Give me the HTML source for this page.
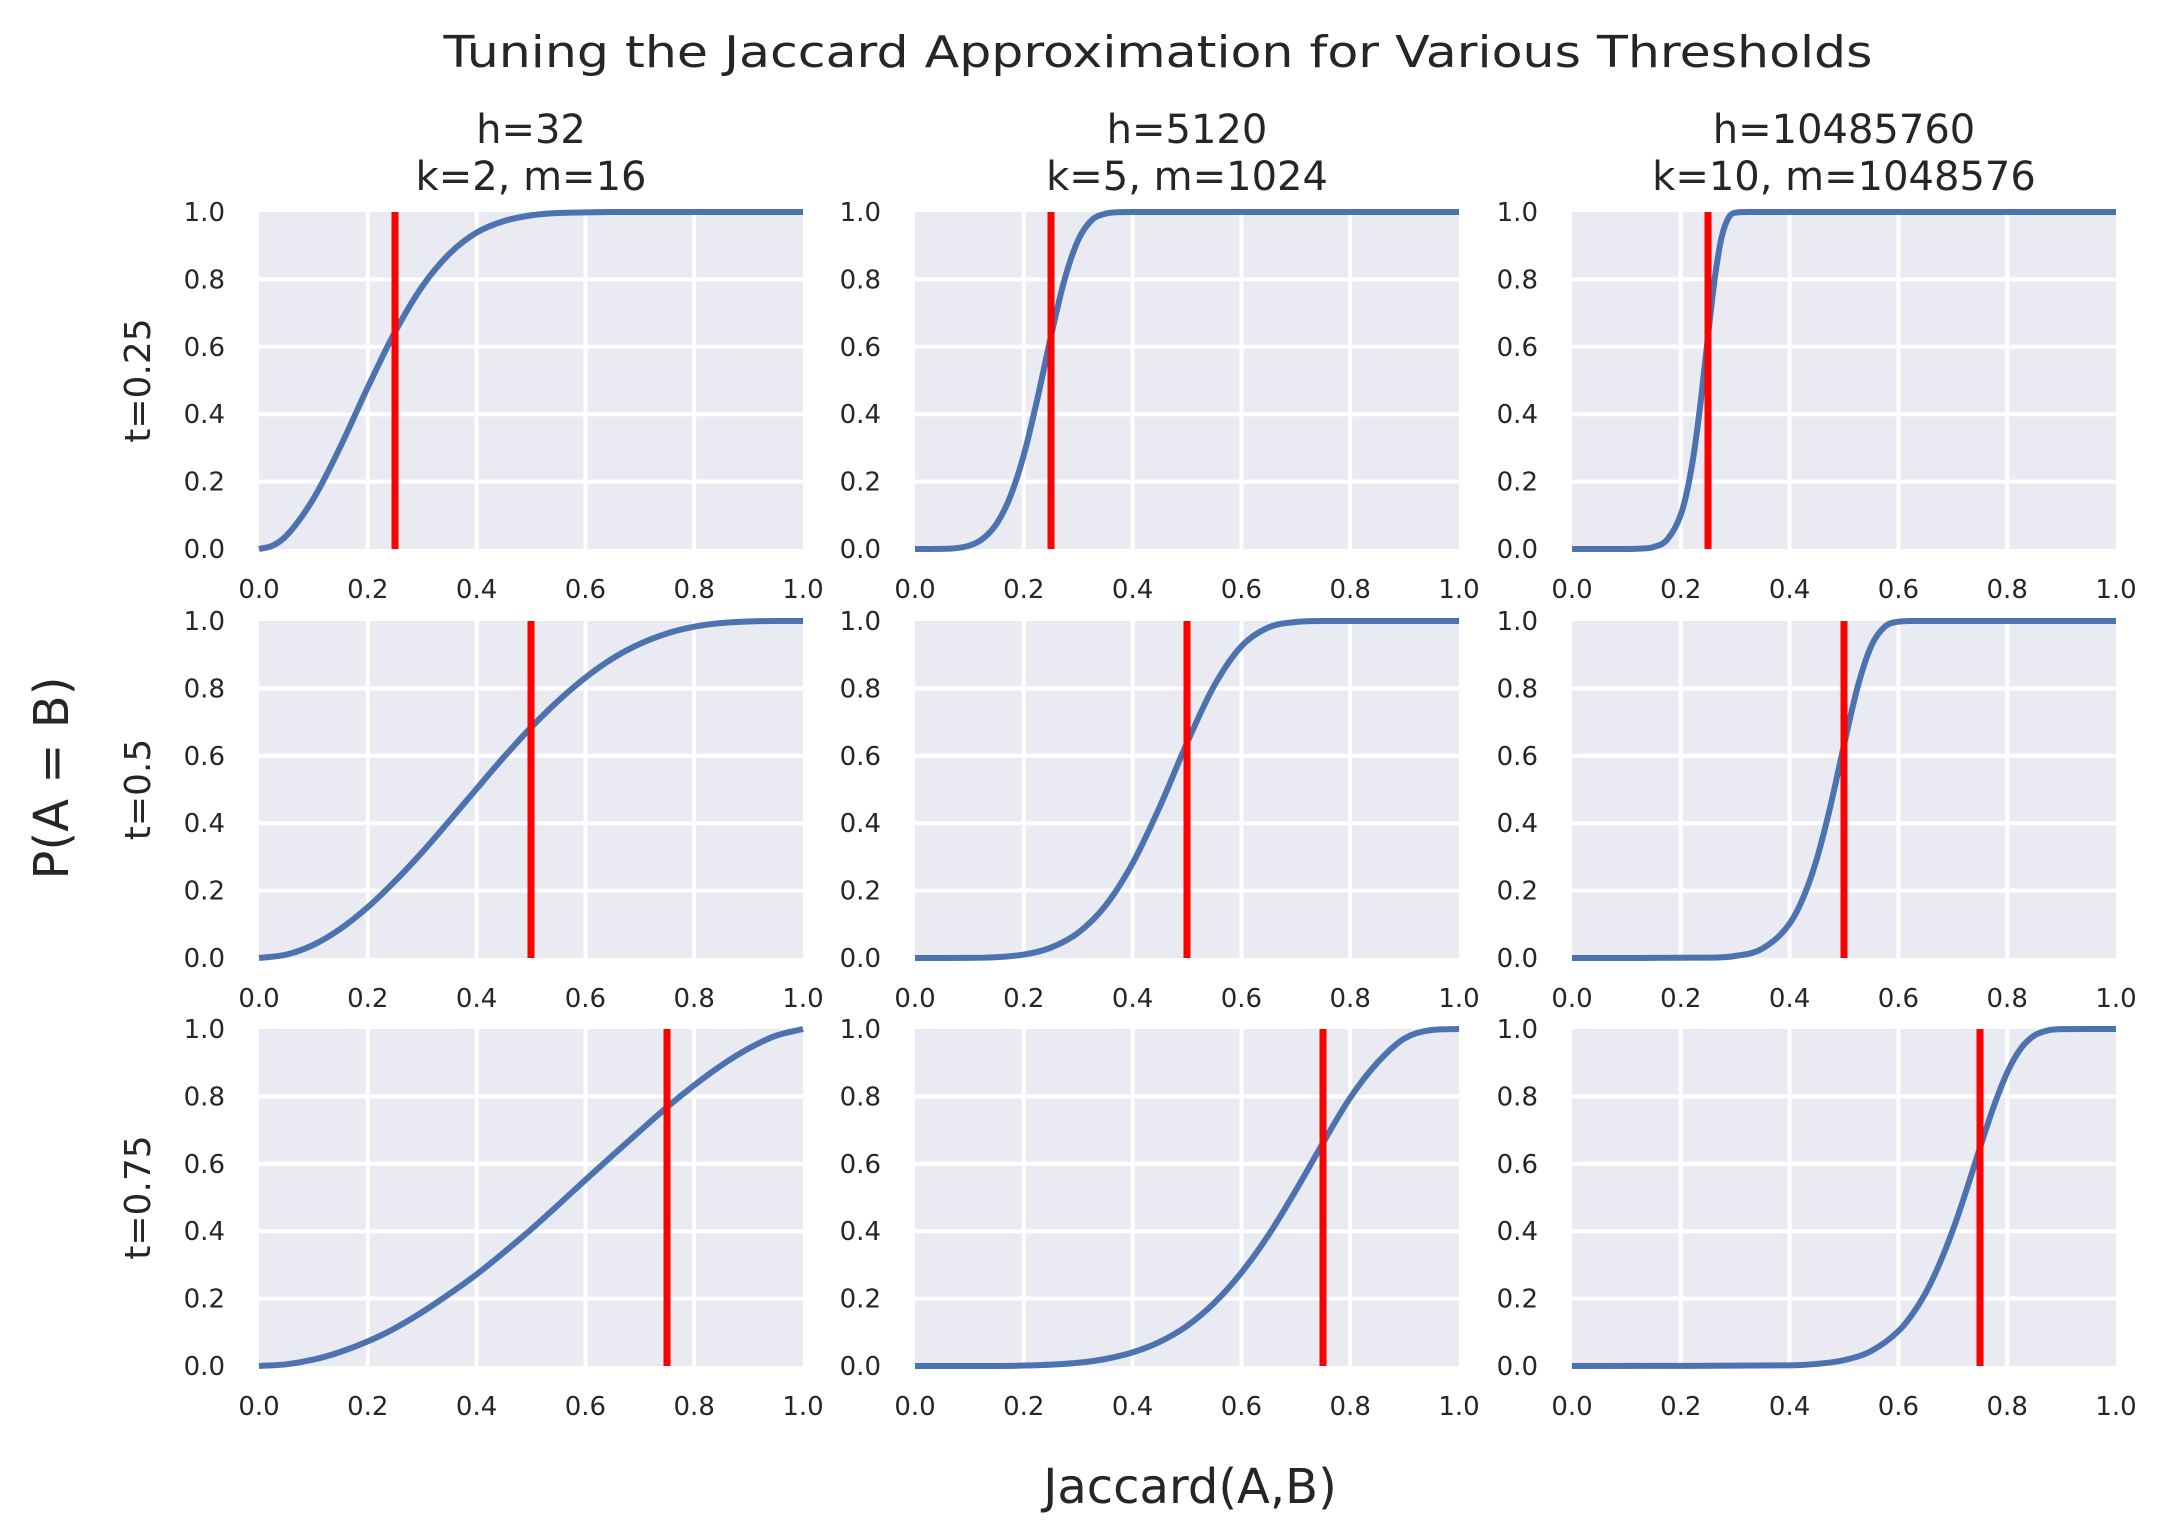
<!DOCTYPE html>
<html><head><meta charset="utf-8"><style>
html,body{margin:0;padding:0;background:#fff}
svg{display:block}
text{font-family:"DejaVu Sans","Liberation Sans",sans-serif;fill:#262626}
</style></head><body>
<svg id="fig" width="2171" height="1538" viewBox="0 0 2171 1538" xmlns="http://www.w3.org/2000/svg">
<text x="1158" y="67" font-size="44" text-anchor="middle" textLength="1429" lengthAdjust="spacingAndGlyphs">Tuning the Jaccard Approximation for Various Thresholds</text>
<text x="1190" y="1503" font-size="48" text-anchor="middle">Jaccard(A,B)</text>
<text transform="translate(68,778) rotate(-90)" font-size="48" text-anchor="middle">P(A = B)</text>
<g id="panels"></g>
</svg>
<script>
const colTitles1 = ["h=32", "h=5120", "h=10485760"];
const colTitles2 = ["k=2, m=16", "k=5, m=1024", "k=10, m=1048576"];
const rowLabels = ["t=0.25", "t=0.5", "t=0.75"];
const thresholds = [0.25, 0.5, 0.75];
const tickLabels = ["0.0","0.2","0.4","0.6","0.8","1.0"];
const tickValues = [0,0.2,0.4,0.6,0.8,1.0];

const xsA = [0,0.025,0.05,0.1,0.15,0.2,0.25,0.3,0.35,0.4,0.45,0.5,0.55,0.6,0.65,0.7,1];
const ysA = [0,0.01,0.039,0.149,0.305,0.480,0.644,0.779,0.876,0.939,0.973,0.990,0.997,0.999,1,1,1];
const xsB = [0,0.05,0.1,0.125,0.15,0.175,0.2,0.225,0.25,0.275,0.3,0.325,0.35,0.375,0.4,1];
const ysB = [0,0.0003,0.0102,0.031,0.075,0.155,0.279,0.446,0.632,0.800,0.917,0.976,0.995,0.9995,1,1];
const xsC = [0,0.1,0.125,0.15,0.175,0.2,0.2125,0.225,0.2375,0.25,0.2625,0.275,0.2875,0.3,0.325,1];
const ysC = [0,0,0.001,0.006,0.028,0.102,0.179,0.294,0.450,0.632,0.804,0.925,0.9825,0.998,1,1];
const xsD = [0,0.05,0.1,0.15,0.2,0.25,0.3,0.35,0.4,0.45,0.5,0.55,0.6,0.65,0.7,0.75,0.8,0.85,0.9,0.95,1];
const ysD = [0,0.010,0.039,0.087,0.151,0.228,0.314,0.407,0.502,0.596,0.684,0.763,0.832,0.889,0.932,0.963,0.983,0.994,0.9987,1,1];
const xsE = [0,0.1,0.2,0.25,0.3,0.35,0.4,0.45,0.5,0.55,0.6,0.65,0.7,0.75,1];
const ysE = [0,0.0003,0.0102,0.031,0.075,0.155,0.281,0.449,0.638,0.808,0.925,0.981,0.997,1,1];
const xsF = [0,0.25,0.3,0.35,0.4,0.425,0.45,0.475,0.5,0.525,0.55,0.575,0.6,0.625,1];
const ysF = [0,0.001,0.006,0.028,0.102,0.179,0.294,0.450,0.632,0.804,0.9255,0.983,0.998,1,1];
const xsG = [0,0.05,0.1,0.15,0.2,0.25,0.3,0.35,0.4,0.45,0.5,0.55,0.6,0.65,0.7,0.75,0.8,0.85,0.9,0.95,1];
const ysG = [0,0.005,0.019,0.042,0.073,0.112,0.160,0.214,0.272,0.337,0.405,0.478,0.552,0.625,0.697,0.768,0.833,0.892,0.942,0.980,1];
const xsH = [0,0.1,0.2,0.3,0.35,0.4,0.45,0.5,0.55,0.6,0.65,0.7,0.75,0.8,0.85,0.9,0.95,1];
const ysH = [0,0,0.0013,0.0097,0.0208,0.0403,0.0718,0.119,0.187,0.277,0.389,0.521,0.662,0.796,0.900,0.972,0.997,1];
const xsI = [0,0.4,0.45,0.5,0.55,0.6,0.625,0.65,0.675,0.7,0.725,0.75,0.775,0.8,0.825,0.85,0.875,0.9,1];
const ysI = [0,0.0019,0.0061,0.0174,0.0446,0.1034,0.152,0.2165,0.301,0.403,0.5215,0.648,0.769,0.871,0.942,0.9807,0.9959,0.9996,1];

const seriesX = [[xsA,xsB,xsC],[xsD,xsE,xsF],[xsG,xsH,xsI]];
const seriesY = [[ysA,ysB,ysC],[ysD,ysE,ysF],[ysG,ysH,ysI]];

const NS = "http://www.w3.org/2000/svg";
const lefts = [259, 915, 1572], tops = [212, 621, 1029];
const W = 544, H = 337;
const root = document.getElementById('panels');
function mk(tag, attrs, parent){const e=document.createElementNS(NS,tag);for(const k in attrs)e.setAttribute(k,attrs[k]);parent.appendChild(e);return e;}

function monoPath(px, py){
  const n=px.length, d=[], m=new Array(n);
  for(let i=0;i<n-1;i++) d.push((py[i+1]-py[i])/(px[i+1]-px[i]));
  m[0]=d[0]; m[n-1]=d[n-2];
  for(let i=1;i<n-1;i++){ m[i]=(d[i-1]*d[i]<=0)?0:(d[i-1]+d[i])/2; }
  for(let i=0;i<n-1;i++){
    if(d[i]===0){m[i]=0;m[i+1]=0;continue;}
    const a=m[i]/d[i], b=m[i+1]/d[i], s=a*a+b*b;
    if(s>9){const t=3/Math.sqrt(s);m[i]=t*a*d[i];m[i+1]=t*b*d[i];}
  }
  let p="M"+px[0].toFixed(2)+","+py[0].toFixed(2);
  for(let i=0;i<n-1;i++){
    const h=px[i+1]-px[i];
    p+=" C"+(px[i]+h/3).toFixed(2)+","+(py[i]+m[i]*h/3).toFixed(2)+" "+(px[i+1]-h/3).toFixed(2)+","+(py[i+1]-m[i+1]*h/3).toFixed(2)+" "+px[i+1].toFixed(2)+","+py[i+1].toFixed(2);
  }
  return p;
}

for(let r=0;r<3;r++){
  for(let c=0;c<3;c++){
    const L=lefts[c], T=tops[r];
    const sx=v=>L+v*W, sy=v=>T+H-v*H;
    const g=mk('g',{},root);
    
    
    const bg=mk('rect',{x:L,y:T,width:W,height:H,fill:'#EAEAF2'},g);
    
    
    for(let i=1;i<5;i++){
      const gx=mk('line',{x1:sx(tickValues[i]),x2:sx(tickValues[i]),y1:T,y2:T+H,stroke:'#fff','stroke-width':4},g);
      
      
      const gy=mk('line',{x1:L,x2:L+W,y1:sy(tickValues[i]),y2:sy(tickValues[i]),stroke:'#fff','stroke-width':4},g);
      
      
    }
    for(let i=0;i<6;i++){
      const yt=mk('text',{x:L-34,y:sy(tickValues[i])+9,'font-size':26,'text-anchor':'end'},g);
      yt.textContent=tickLabels[i];
      
      
      const xt=mk('text',{x:sx(tickValues[i]),y:T+H+49,'font-size':26,'text-anchor':'middle'},g);
      xt.textContent=tickLabels[i];
      
      
    }
    const xs=seriesX[r][c], ys=seriesY[r][c];
    const curve=mk('path',{d:monoPath(xs.map(sx),ys.map(sy)),fill:'none',stroke:'#4C72B0','stroke-width':6,'stroke-linejoin':'round'},g);
    
    
    const tl=mk('line',{x1:sx(thresholds[r]),x2:sx(thresholds[r]),y1:T,y2:T+H,stroke:'#FF0000','stroke-width':7},g);
    
    
  }
}
for(let c=0;c<3;c++){
  const cx=lefts[c]+W/2;
  const t1=mk('text',{x:cx,y:143,'font-size':40,'text-anchor':'middle'},root);
  t1.textContent=colTitles1[c];
  
  
  const t2=mk('text',{x:cx,y:190,'font-size':40,'text-anchor':'middle'},root);
  t2.textContent=colTitles2[c];
  
  
}
for(let r=0;r<3;r++){
  const cy=tops[r]+H/2;
  const rl=mk('text',{transform:'translate(150,'+cy+') rotate(-90)','font-size':36,'text-anchor':'middle'},root);
  rl.textContent=rowLabels[r];
  
  
}
</script>
</body></html>
